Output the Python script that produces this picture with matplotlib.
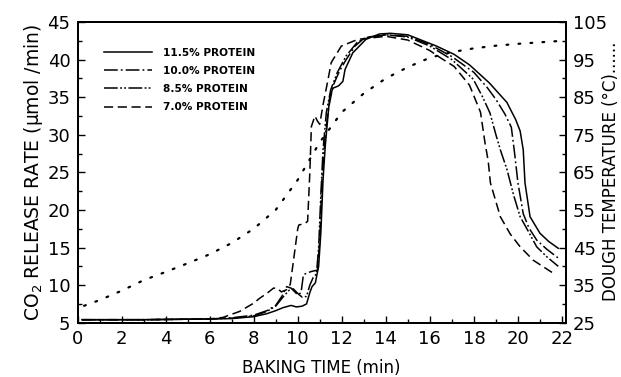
import matplotlib
matplotlib.use("Agg")
import matplotlib.pyplot as plt
import numpy as np

plt.rcParams['font.family'] = ['DejaVu Sans']

# ---- data ----
temp_x = [0.3, 1, 2, 3, 4, 5, 6, 7, 8, 9, 10, 11, 12, 13, 14, 15, 16, 17, 18, 19, 20, 21, 22]
temp_y = [29.5, 31, 33.5, 36.3, 38.5, 40.8, 43.2, 46.2, 50, 55, 63, 73, 81, 86, 90, 93, 95.5, 97, 98, 98.7, 99.2, 99.6, 100]

p115_x = [0.2, 3, 6, 7, 8, 8.6, 9.0, 9.33, 9.7, 9.94, 10.2, 10.4, 10.55, 10.65, 10.8, 10.95, 11.05, 11.15, 11.25,
          11.45, 11.6, 11.85, 12.05, 12.15, 12.5, 13.1, 13.7, 14.2, 15.0, 16.3, 17.1, 17.8, 18.7, 19.5, 19.9,
          20.1, 20.24, 20.32, 20.55, 21.0, 21.4, 21.83]
p115_y = [5.4, 5.4, 5.5, 5.55, 5.8, 6.2, 6.6, 7.0, 7.3, 7.1, 7.2, 7.5, 9.0, 9.8, 10.3, 12.5, 17, 24, 28.5,
          35.0, 36.2, 36.5, 37.1, 38.7, 40.9, 42.7, 43.4, 43.5, 43.3, 41.8, 40.7, 39.3, 36.9, 34.3, 32.0,
          30.5, 28.0, 23.6, 19.1, 16.9, 15.8, 14.9]

p100_x = [0.2, 3, 6, 7, 8, 8.6, 9.0, 9.3, 9.5, 9.7, 10.0, 10.15, 10.26, 10.6, 10.9, 11.0, 11.1, 11.25, 11.4,
          11.6, 11.9, 12.2, 12.6, 13.0, 14.0, 15.0, 16.0, 17.0, 18.0, 18.6, 19.0, 19.4, 19.7, 19.85, 20.0,
          20.24, 20.5, 20.85, 21.3, 21.83]
p100_y = [5.4, 5.4, 5.5, 5.65, 6.0, 6.6, 7.3, 8.6, 9.8, 9.6, 8.7, 9.0, 11.4, 11.8, 12.0, 16, 24, 30, 33.5,
          36.5, 38.5, 40.0, 41.8, 42.8, 43.3, 43.1, 42.0, 40.4, 38.3, 36.3, 34.7, 32.8, 31.0, 27.5, 23.6,
          19.5, 17.6, 16.0, 14.8, 13.6]

p85_x = [0.2, 3, 6, 7, 8, 8.6, 9.0, 9.3, 9.6, 9.8, 10.0, 10.2, 10.4, 10.55, 10.7, 10.85, 10.95, 11.05, 11.15,
         11.3, 11.5, 11.8, 12.2, 12.7, 13.2, 14.0, 15.0, 16.0, 17.0, 17.97, 18.4, 18.73, 19.0, 19.2, 19.5,
         19.8, 20.1, 20.5, 20.85, 21.3, 21.83]
p85_y = [5.4, 5.4, 5.5, 5.6, 5.9, 6.5, 7.2, 8.3, 9.3, 9.5, 8.9, 8.4, 8.5, 10.0, 11.0, 11.5, 15, 22, 28,
         33, 36, 38.3, 40.5, 42.3, 43.0, 43.3, 43.0, 41.8, 40.0, 37.4, 35.0, 32.9, 30.0, 28.0, 25.4,
         22.0, 19.1, 17.0, 15.1, 13.8, 12.5]

p70_x = [0.2, 3, 6, 6.6, 7.36, 8.0, 8.27, 8.6, 8.9, 9.05, 9.26, 9.5, 9.66, 9.75, 10.0, 10.05, 10.33, 10.45,
         10.55, 10.62, 10.78, 10.9, 11.0, 11.15, 11.38, 11.52, 11.98, 12.74, 13.4, 14.0, 15.0, 16.0, 16.5,
         17.1, 17.8, 18.3, 18.5, 18.65, 18.75, 19.2, 19.65, 20.1, 20.7, 21.7]
p70_y = [5.4, 5.4, 5.5, 5.7, 6.5, 7.6, 8.25, 8.9, 9.6, 9.6, 9.1, 9.4, 10.1, 12, 17.5, 18, 18.2, 18.5,
         25, 31.1, 32.5, 31.8, 31.4, 34, 37.4, 39.6, 41.8, 42.7, 42.9, 43.1, 42.6, 41.2, 40.2,
         39.1, 36.6, 33, 29, 26.5, 23.6, 19.1, 16.8, 15.1, 13.3, 11.4]

labels = ["11.5% PROTEIN", "10.0% PROTEIN", "8.5% PROTEIN", "7.0% PROTEIN"]
xticks = list(range(0, 23, 2))
lticks = list(range(5, 46, 5))
rticks = list(range(25, 106, 10))

# ---- figure ----
fig = plt.figure(figsize=(6.21, 3.77), dpi=100)
ax = fig.add_axes([0.1248, 0.144, 0.7862, 0.7976])
ax2 = ax.twinx()

styles = ['-', (0, (9, 2, 1.2, 2)), (0, (9, 1.6, 1.2, 1.4, 1.2, 1.6)), (0, (6, 3))]
series = [(p115_x, p115_y), (p100_x, p100_y), (p85_x, p85_y), (p70_x, p70_y)]
handles = []
for (xs, ys), ls, lab in zip(series, styles, labels):
    h, = ax.plot(xs, ys, color='black', lw=1.1, linestyle=ls, label=lab)
    handles.append(h)

ax2.plot(temp_x, temp_y, color='black', lw=1.6, linestyle=(0, (0.8, 4.6)), dash_capstyle='round')

ax.set_xlim(0, 22.17)
ax.set_ylim(5, 45)
ax2.set_ylim(25, 105)

ax.set_xticks(xticks)
ax.set_xticks(np.arange(0, 22.5, 1), minor=True)
ax.set_yticks(lticks)
ax.set_yticks(np.arange(5, 45.1, 2.5), minor=True)
ax2.set_yticks(rticks)
ax2.set_yticks(np.arange(25, 105.1, 5), minor=True)

for a in (ax, ax2):
    a.tick_params(which='both', direction='in', color='black')
    a.tick_params(which='major', length=5, width=1.0, labelsize=13, pad=5)
    a.tick_params(which='minor', length=3, width=1.0)
    for s in a.spines.values():
        s.set_linewidth(1.4)
ax.tick_params(axis='y', which='both', right=False)
ax.tick_params(axis='x', which='both', top=False)

ax.set_xlabel("BAKING TIME (min)", fontsize=12, labelpad=8)
ax.set_ylabel("CO$_2$ RELEASE RATE (μmol /min)", fontsize=13.5, labelpad=2)
fig.text(0.984, 0.545, "DOUGH TEMPERATURE (°C)......", rotation=90, fontsize=12,
         ha='center', va='center')

leg = ax.legend(handles=handles, loc='upper left', bbox_to_anchor=(0.054, 0.915),
                frameon=False, handlelength=4.6, handletextpad=1.0, labelspacing=0.78,
                borderaxespad=0, borderpad=0, prop={'size': 7.6, 'weight': 'bold'})

fig.savefig("out.png", dpi=100)
